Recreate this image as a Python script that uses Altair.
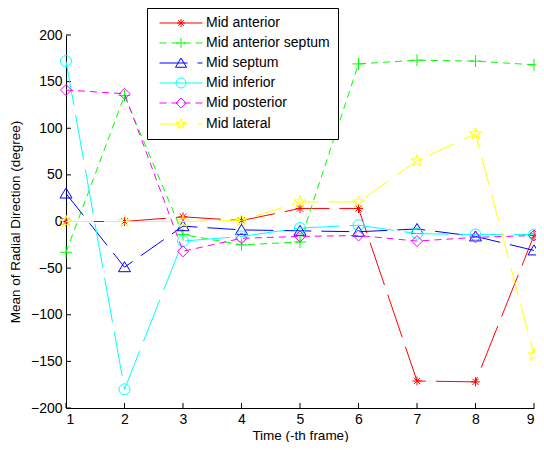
import math
import altair as alt
import pandas as pd

# ---------------- data ----------------
frames = [1, 2, 3, 4, 5, 6, 7, 8, 9]
series = ["Mid anterior", "Mid anterior septum", "Mid septum",
          "Mid inferior", "Mid posterior", "Mid lateral"]
mid_anterior = [0, 0, 5, 1, 14, 14, -171, -172, -15]
mid_anterior_septum = [-33, 135, -14, -25, -22, 169, 173, 172, 168]
mid_septum = [30, -49, -5, -9, -10, -11, -8, -16, -31]
mid_inferior = [172, -180, -21, -16, -7, -4, -13, -14, -14]
mid_posterior = [141, 137, -32, -18, -16, -15, -21, -17, -15]
mid_lateral = [0, 0, 0, 1, 21, 21, 65, 94, -143]
y_ticks = [-200, -150, -100, -50, 0, 50, 100, 150, 200]

all_values = [mid_anterior, mid_anterior_septum, mid_septum,
              mid_inferior, mid_posterior, mid_lateral]

rows = []
for name, vals in zip(series, all_values):
    for f, v in zip(frames, vals):
        rows.append({"frame": f, "value": v, "series": name})
df = pd.DataFrame(rows)

# ---------------- styles ----------------
colors = ["#ff0000", "#00ff00", "#0000ff", "#00ffff", "#ff00ff", "#ffff00"]
dashes = [[45, 10], [7, 5], [28, 10], [45, 10], [7, 5], [28, 10]]
FONT = "Liberation Sans"
W, H = 468, 373


def star_path(R, r, cx=0.0):
    pts = []
    for k in range(10):
        ang = math.radians(-90 + 36 * k)
        rad = R if k % 2 == 0 else r
        pts.append((cx + rad * math.cos(ang), rad * math.sin(ang)))
    return "M" + "L".join(f"{x:.3f},{y:.3f}" for x, y in pts) + "Z"


asterisk = ("M-0.9,0L0.9,0M0,-0.9L0,0.9M-0.64,-0.64L0.64,0.64M-0.64,0.64L0.64,-0.64")
plus = "M-1.2,0L1.2,0M0,-1.2L0,1.2"
triangle = "M0,-1.1L1.2,0.9L-1.2,0.9Z"
circle = "M1.1,0A1.1,1.1,0,1,1,-1.1,0A1.1,1.1,0,1,1,1.1,0Z"
diamond = "M0,-1.1L1.1,0L0,1.1L-1.1,0Z"
star = star_path(1.25, 0.48)
marker_paths = [asterisk, plus, triangle, circle, diamond, star]

# legend symbols: line sample (with its dash pattern) + marker, units of 5px
solid = "M-4.3,0L4.3,0"
short_dash = "M-4.3,0L-2.9,0M-1.9,0L-0.5,0M0.5,0L1.9,0M2.9,0L4.3,0"
long_dash = "M-4.3,0L1.3,0M3.3,0L4.3,0"
leg_asterisk = "M-0.8,0L0.8,0M0,-0.8L0,0.8M-0.57,-0.57L0.57,0.57M-0.57,0.57L0.57,-0.57"
leg_plus = "M-1,0L1,0M0,-1L0,1"
leg_triangle = "M0,-1L1.1,0.85L-1.1,0.85Z"
leg_circle = "M1,0A1,1,0,1,1,-1,0A1,1,0,1,1,1,0Z"
leg_diamond = "M0,-1L1,0L0,1L-1,0Z"
leg_star = star_path(1.1, 0.42)
legend_paths = [solid + leg_asterisk, short_dash + leg_plus, long_dash + leg_triangle,
                solid + leg_circle, short_dash + leg_diamond, long_dash + leg_star]

xs = alt.Scale(domain=[1, 9], nice=False, zero=False)
ys = alt.Scale(domain=[-200, 200], nice=False, zero=False)

x_axis = alt.Axis(values=frames, format="d", tickSize=0, labelPadding=4,
                  title="Time (-th frame)", titlePadding=2)
y_axis = alt.Axis(values=y_ticks, format="d", tickSize=0, labelPadding=4,
                  title="Mean of Radial Direction (degree)", titlePadding=8)

series_layers = []
for name, col, dash, path in zip(series, colors, dashes, marker_paths):
    base = alt.Chart(df).transform_filter(alt.datum.series == name)
    series_layers.append(
        base.mark_line(strokeWidth=1, color=col, strokeDash=dash).encode(
            x=alt.X("frame:Q", scale=xs, axis=x_axis),
            y=alt.Y("value:Q", scale=ys, axis=y_axis),
        )
    )
    series_layers.append(
        base.mark_point(filled=False, strokeWidth=1, size=100, opacity=1,
                        shape=path, color=col).encode(
            x=alt.X("frame:Q", scale=xs), y=alt.Y("value:Q", scale=ys))
    )

legend_cfg = dict(
    title=None, orient="none", legendX=81, legendY=-27,
    strokeColor="black", fillColor="white", padding=8,
    symbolSize=100, symbolOffset=19, labelOffset=18, rowPadding=6,
    labelFontSize=14, labelFont=FONT, labelColor="black",
    symbolStrokeWidth=1,
)

legend_layer = alt.Chart(df).transform_filter("false").mark_point(
    filled=False, strokeWidth=1, size=100, opacity=1
).encode(
    x=alt.X("frame:Q", scale=xs),
    y=alt.Y("value:Q", scale=ys),
    shape=alt.Shape("series:N", sort=series,
                    scale=alt.Scale(domain=series, range=legend_paths),
                    legend=alt.Legend(**legend_cfg)),
    color=alt.Color("series:N", sort=series,
                    scale=alt.Scale(domain=series, range=colors),
                    legend=alt.Legend(**legend_cfg)),
)

x_ticks_df = pd.DataFrame({"frame": frames})
y_ticks_df = pd.DataFrame({"value": y_ticks})
x_inward = alt.Chart(x_ticks_df).mark_rule(color="black", strokeWidth=1).encode(
    x=alt.X("frame:Q", scale=xs), y=alt.value(H), y2=alt.value(H - 5))
y_inward = alt.Chart(y_ticks_df).mark_rule(color="black", strokeWidth=1).encode(
    y=alt.Y("value:Q", scale=ys), x=alt.value(0), x2=alt.value(5))

chart = alt.layer(x_inward, y_inward, *series_layers, legend_layer).properties(
    width=W, height=H,
    autosize=alt.AutoSizeParams(type="none"),
    padding={"left": 58, "top": 27, "right": 2, "bottom": 34},
).configure_view(stroke=None).configure_axis(
    grid=False, domainColor="black", domainWidth=1,
    labelFont=FONT, labelFontSize=14, labelColor="black",
    titleFont=FONT, titleFontSize=13.5, titleFontWeight="normal", titleColor="black",
)

chart.save("out.html", embed_options={"renderer": "svg", "actions": False})
